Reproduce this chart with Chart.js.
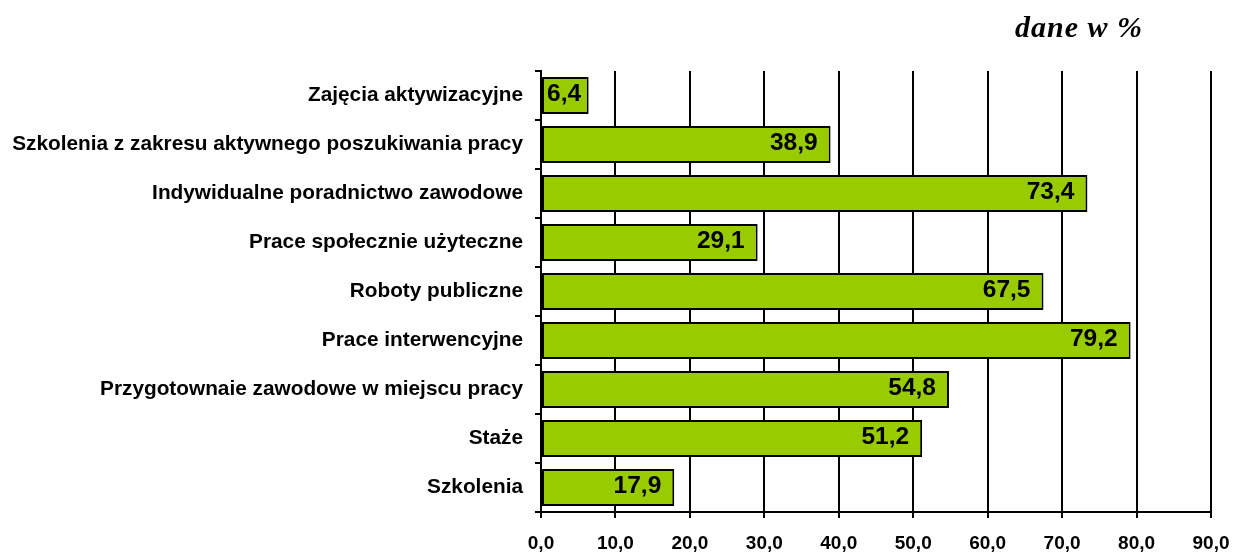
<!DOCTYPE html>
<html><head><meta charset="utf-8">
<script src="https://cdn.jsdelivr.net/npm/chart.js@4"></script>
<style>html,body{margin:0;padding:0;background:#fff}#wrap{width:1233px;height:553px}</style>
</head><body><div id="wrap"><canvas id="c" width="1233" height="553"></canvas></div>
<script>
const categories = [
  "Zajęcia aktywizacyjne",
  "Szkolenia z zakresu aktywnego poszukiwania pracy",
  "Indywidualne poradnictwo zawodowe",
  "Prace społecznie użyteczne",
  "Roboty publiczne",
  "Prace interwencyjne",
  "Przygotownaie zawodowe w miejscu pracy",
  "Staże",
  "Szkolenia"
];
const values = [6.4, 38.9, 73.4, 29.1, 67.5, 79.2, 54.8, 51.2, 17.9];
const unitNote = "dane w %";
const xMin = 0, xMax = 90, xStep = 10;

const fmt = v => v.toFixed(1).replace('.', ',');

const valueLabels = {
  id: 'valueLabels',
  afterDatasetsDraw(chart) {
    const ctx = chart.ctx;
    const meta = chart.getDatasetMeta(0);
    const left = chart.chartArea.left;
    ctx.save();
    ctx.font = 'bold 24.5px "Liberation Sans", Arial, sans-serif';
    ctx.fillStyle = '#000';
    ctx.textAlign = 'right';
    ctx.textBaseline = 'middle';
    meta.data.forEach((bar, i) => {
      const t = fmt(values[i]);
      const w = ctx.measureText(t).width;
      const x = Math.max(bar.x - 13, left + 6 + w);
      ctx.fillText(t, x, bar.y - 1);
    });
    ctx.restore();
  }
};
const noteText = {
  id: 'noteText',
  afterDraw(chart) {
    const ctx = chart.ctx;
    ctx.save();
    ctx.font = 'italic bold 30px "Liberation Serif", "Times New Roman", serif';
    ctx.fillStyle = '#000';
    ctx.textAlign = 'right';
    ctx.textBaseline = 'alphabetic';
    try { ctx.letterSpacing = '1px'; } catch (e) {}
    ctx.fillText(unitNote, chart.width - 90, 37);
    ctx.restore();
  }
};

new Chart(document.getElementById('c'), {
  type: 'bar',
  data: {
    labels: categories,
    datasets: [{
      data: values,
      backgroundColor: '#99cc00',
      borderColor: '#000',
      borderWidth: 2,
      borderSkipped: false,
      categoryPercentage: 1,
      barPercentage: 0.76
    }]
  },
  options: {
    indexAxis: 'y',
    responsive: false,
    animation: false,
    layout: { padding: { top: 71, right: 22, left: 0, bottom: 0 } },
    plugins: { legend: { display: false }, tooltip: { enabled: false }, title: { display: false } },
    scales: {
      x: {
        min: xMin, max: xMax,
        ticks: { stepSize: xStep, color: '#000', padding: 14,
          font: { family: '"Liberation Sans", Arial, sans-serif', size: 19, weight: 'bold' },
          callback: v => fmt(v) },
        grid: { color: '#000', lineWidth: 2, tickLength: 6, drawTicks: true },
        border: { display: true, color: '#000', width: 2 },
        afterFit(s) { s.height = 41; s.paddingRight = 0; s.paddingLeft = 0; }
      },
      y: {
        ticks: { color: '#000', padding: 12,
          font: { family: '"Liberation Sans", Arial, sans-serif', size: 20.8, weight: 'bold' } },
        grid: { drawOnChartArea: false, color: '#000', lineWidth: 2, tickLength: 6, offset: true },
        border: { display: true, color: '#000', width: 2 },
        afterFit(s) { s.width = 541; }
      }
    }
  },
  plugins: [valueLabels, noteText]
});
</script>
</body></html>
